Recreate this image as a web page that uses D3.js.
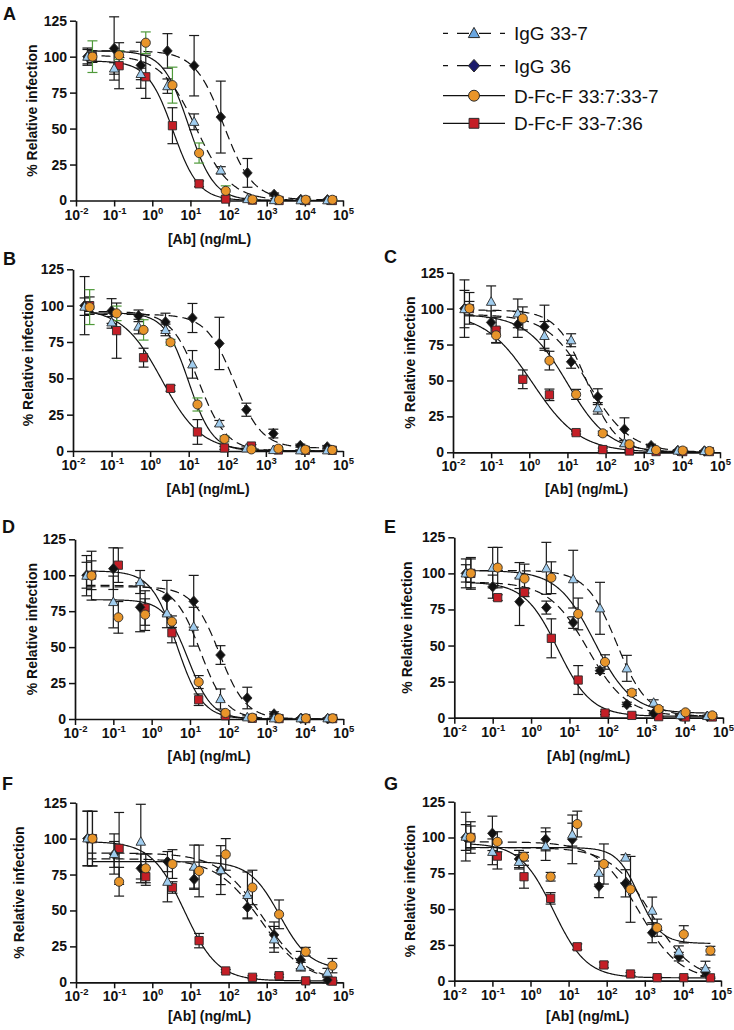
<!DOCTYPE html>
<html><head><meta charset="utf-8">
<script src="https://cdn.jsdelivr.net/npm/d3@7"></script>
<style>
body{margin:0;background:#fff}
svg{display:block}
text{font-family:"Liberation Sans",Arial,Helvetica,sans-serif}
</style>
</head><body><svg id="c" width="734" height="1030"></svg>
<script>
// ---------- DATA ----------
const seriesNames = ["IgG 33-7", "IgG 36", "D-Fc-F 33:7:33-7", "D-Fc-F 33-7:36"];
const concIgG = [0.02, 0.1, 0.5, 2.5, 12.5, 62.5, 312.5, 1562.5, 7812.5, 39062.5];
const concDFc = [0.027, 0.135, 0.675, 3.375, 16.875, 84.375, 421.875, 2109.375, 10546.875, 52734.375];
const yTicks = [0, 25, 50, 75, 100, 125];
const xTickExps = [-2, -1, 0, 1, 2, 3, 4, 5];
const panelIds = ["A", "B", "C", "D", "E", "F", "G"];

const A_igg337 = [100, 91.8, 88, 79.5, 54.7, 21, 1, 0.3, 0.2, 0.2];
const A_igg337_sd = [6, 4, 4, 5, 5.5, 2.5, 0.5, 0, 0, 0];
const A_igg36 = [100, 105.7, 94, 104, 93.7, 58, 19.2, 4.2, 0.7, 0.5];
const A_igg36_sd = [5, 22, 16, 12, 21, 25, 10, 1, 0.5, 0.3];
const A_dfcA = [100, 101, 109.7, 80.2, 33, 6.7, 0.7, 0.4, 0.5, 0.5];
const A_dfcA_sd = [11, 3, 7.5, 12.5, 7, 3.5, 0.5, 0.3, 0.3, 0.3];
const A_dfcB = [100, 93.7, 86, 52, 11.6, 1, 0.3, 0, 0, 0];
const A_dfcB_sd = [4, 16, 15, 12.5, 2, 0.5, 0.2, 0, 0, 0];

const B_igg337 = [99.3, 88.5, 85.6, 83.3, 59.6, 19, 1.8, 0.7, 0.5, 0.5];
const B_igg337_sd = [6, 4, 5, 4, 9.5, 2, 1, 0.3, 0.3, 0.3];
const B_igg36 = [100, 96.3, 93, 88.8, 91.5, 74, 28.4, 12, 3.7, 2.8];
const B_igg36_sd = [20, 8.5, 4, 6, 10, 18, 4.5, 3, 1, 1];
const B_dfcA = [99, 94.7, 83.3, 74.8, 32, 8.3, 1.1, 1.6, 0.9, 0.7];
const B_dfcA_sd = [12, 5, 7, 2, 4.5, 2, 0.5, 0.5, 0.3, 0.3];
const B_dfcB = [100, 82.8, 64.2, 43.1, 13.1, 2.1, 3.4, 0.7, 0.5, 0.5];
const B_dfcB_sd = [6, 19, 6.5, 2, 8.5, 1, 1, 0.3, 0.2, 0.2];

const C_igg337 = [99.7, 104.8, 96.7, 81, 78, 30.6, 6.3, 1.6, 1.2, 0.9];
const C_igg337_sd = [13, 11, 10, 10, 4.5, 4, 2, 0.5, 0.3, 0.3];
const C_igg36 = [100, 90.4, 89, 87.4, 63, 38.7, 16, 4.6, 1.2, 0.9];
const C_igg36_sd = [20, 8, 9, 15, 4.5, 5.5, 8, 1, 0.3, 0.3];
const C_dfcA = [100.2, 81.4, 93.2, 63.8, 40.3, 13.2, 5.6, 1.6, 1.2, 0.9];
const C_dfcA_sd = [11, 5, 8, 6.5, 3.5, 1.5, 1, 0.3, 0.3, 0.3];
const C_dfcB = [100, 85, 50.8, 40, 13.7, 1.9, 0.9, 0.5, 0.5, 0.5];
const C_dfcB_sd = [5, 9, 6.5, 4, 1, 1, 0.5, 0, 0, 0];

const D_igg337 = [99.7, 81.4, 95.3, 73.5, 64.2, 13.9, 1.2, 0.5, 0.5, 0.5];
const D_igg337_sd = [14, 18, 8, 10, 13.5, 7, 1, 0.3, 0.3, 0.3];
const D_igg36 = [100, 104.6, 77.7, 84.4, 81.9, 44.5, 14.6, 3.5, 0.5, 0.2];
const D_igg36_sd = [9, 14.5, 17, 12, 18, 6.5, 7.5, 1.5, 0.3, 0.2];
const D_dfcA = [99.7, 70.7, 72.6, 67.7, 25.7, 4.2, 0.9, 0.5, 0.5, 0.5];
const D_dfcA_sd = [17, 11, 11, 4, 4.5, 1.5, 0.5, 0.3, 0.3, 0.3];
const D_dfcB = [100, 107, 77.2, 60, 13.4, 2.3, 0.5, 0.3, 0.3, 0.3];
const D_dfcB_sd = [10, 12, 12, 7, 4, 1, 0.3, 0, 0, 0];

const E_igg337 = [100, 104, 98.5, 103.5, 96, 75.8, 34.2, 10.4, 1.8, 1.2];
const E_igg337_sd = [10, 14, 9, 18, 20, 18, 9, 2, 1, 0.5];
const E_igg36 = [100, 90.8, 80.4, 76.3, 65.9, 32.6, 9.2, 3, 1.2, 0.9];
const E_igg36_sd = [6, 8, 16.5, 4.5, 4, 2, 1.5, 1, 0.5, 0.5];
const E_dfcA = [100, 104, 96.4, 97, 71.9, 38.6, 17.3, 6, 3.7, 1.6];
const E_dfcA_sd = [11, 14, 10, 11, 11, 5, 2, 1.5, 1, 0.5];
const E_dfcB = [100, 83.2, 86.9, 55, 26.1, 3.2, 1.6, 0.7, 0.5, 0.5];
const E_dfcB_sd = [10, 2, 3, 13.5, 10, 1, 0.5, 0.2, 0.2, 0.2];

const F_igg337 = [100.2, 89.3, 97.9, 70, 80.5, 78.1, 60.8, 29.9, 10.9, 6.7];
const F_igg337_sd = [19, 14, 26, 14, 15, 17, 16, 9, 3, 3];
const F_igg36 = [100, 89, 79.3, 84, 71.7, 78, 52.2, 33, 15.5, 1.6];
const F_igg36_sd = [19, 9, 10, 7, 7, 10, 8, 9, 6, 2];
const F_dfcA = [100, 70, 79.3, 82.3, 77.5, 89, 66, 47.3, 21.3, 11.6];
const F_dfcA_sd = [19, 10, 10, 10, 18, 11, 12, 10, 3, 5];
const F_dfcB = [100, 93.2, 73.5, 66, 29, 7.9, 3.5, 4.6, 1, 0.8];
const F_dfcB_sd = [19, 25, 6, 4, 5, 1, 1, 1, 0.5, 0.5];

const G_igg337 = [100.6, 90, 83, 94, 102, 75.4, 86, 48.9, 20.3, 8.6];
const G_igg337_sd = [17, 9, 5, 10, 8, 8, 2, 9.5, 4, 5];
const G_igg36 = [100, 102.9, 85, 98.7, 98.7, 66, 68, 33.5, 16.8, 6];
const G_igg36_sd = [9, 12, 6, 8, 17, 8, 9.5, 7, 3, 3];
const G_dfcA = [100, 97, 86.6, 72.6, 109.4, 81.5, 63.8, 37, 32.4, 21];
const G_dfcA_sd = [11, 7, 3, 3, 9, 14, 23, 6, 6, 3];
const G_dfcB = [100, 87, 72.6, 57.5, 23.7, 11, 4.7, 2.1, 2.1, 2];
const G_dfcB_sd = [8, 9, 8, 4, 2, 2, 1, 0.5, 0.5, 0.5];

// fitted 4-parameter logistic curves: [top, bottom, IC50 (ng/mL), Hill slope]
const A_fits = [[101, 0, 14, 0.95], [104, 0.5, 75, 1.15], [104, 0, 9, 1.3], [97, 0, 3.5, 1.3]];
const B_fits = [[96, 0, 18, 1.2], [94, 2, 150, 1.2], [95, 0, 10, 1.4], [98, 0, 2, 0.85]];
const C_fits = [[99, 0, 32, 1.1], [96, 0, 35, 0.8], [96, 0, 10, 0.8], [97, 0, 1.2, 0.7]];
const D_fits = [[93, 0, 19, 1.3], [92, 0, 58, 1.25], [83, 0, 9, 1.4], [103, 0, 4.5, 1.3]];
const E_fits = [[102, 1, 170, 1.1], [94, 1, 30, 0.85], [102, 3, 45, 0.9], [94, 1, 5, 1.0]];
const F_fits = [[90, 0, 800, 0.75], [86, 0, 700, 0.75], [84, 9, 2200, 1.1], [98, 1, 7, 1.0]];
const G_fits = [[93, 0, 1500, 0.8], [97, 0, 700, 0.8], [93, 26, 700, 1.5], [96, 2, 4, 1.0]];

// ---------- ASSEMBLY ----------
const panels = {
  A: {vals: [A_igg337, A_igg36, A_dfcA, A_dfcB], sds: [A_igg337_sd, A_igg36_sd, A_dfcA_sd, A_dfcB_sd], fits: A_fits},
  B: {vals: [B_igg337, B_igg36, B_dfcA, B_dfcB], sds: [B_igg337_sd, B_igg36_sd, B_dfcA_sd, B_dfcB_sd], fits: B_fits},
  C: {vals: [C_igg337, C_igg36, C_dfcA, C_dfcB], sds: [C_igg337_sd, C_igg36_sd, C_dfcA_sd, C_dfcB_sd], fits: C_fits},
  D: {vals: [D_igg337, D_igg36, D_dfcA, D_dfcB], sds: [D_igg337_sd, D_igg36_sd, D_dfcA_sd, D_dfcB_sd], fits: D_fits},
  E: {vals: [E_igg337, E_igg36, E_dfcA, E_dfcB], sds: [E_igg337_sd, E_igg36_sd, E_dfcA_sd, E_dfcB_sd], fits: E_fits},
  F: {vals: [F_igg337, F_igg36, F_dfcA, F_dfcB], sds: [F_igg337_sd, F_igg36_sd, F_dfcA_sd, F_dfcB_sd], fits: F_fits},
  G: {vals: [G_igg337, G_igg36, G_dfcA, G_dfcB], sds: [G_igg337_sd, G_igg36_sd, G_dfcA_sd, G_dfcB_sd], fits: G_fits}
};
const seriesConc = [concIgG, concIgG, concDFc, concDFc];

// ---------- LAYOUT / STYLE ----------
const layout = {
  A: {x0: 76, x1: 343, yt: 20.7, yb: 200.5, lx: 3, ly: 20, ylx: 36.7, xly: 244},
  B: {x0: 73, x1: 343, yt: 269.3, yb: 451, lx: 3, ly: 265, ylx: 33.3, xly: 494},
  C: {x0: 453, x1: 720, yt: 272.7, yb: 452.3, lx: 384, ly: 263, ylx: 415, xly: 494},
  D: {x0: 75, x1: 343.3, yt: 539.3, yb: 719, lx: 2, ly: 533, ylx: 36.7, xly: 761},
  E: {x0: 454.3, x1: 723, yt: 537.3, yb: 717.7, lx: 384, ly: 533, ylx: 412, xly: 761},
  F: {x0: 76, x1: 343, yt: 802.7, yb: 982.3, lx: 2, ly: 790, ylx: 24.3, xly: 1021},
  G: {x0: 454.3, x1: 721, yt: 801.7, yb: 980.7, lx: 384, ly: 790, ylx: 414.7, xly: 1021}
};
const fills = ["#a0cdef", "#111111", "#e8952a", "#c41e26"];
const legendFills = ["#6aa6e0", "#1c1c6b", "#e8952a", "#c41e26"];
const dashed = [true, true, false, false];
const drawOrder = [3, 1, 0, 2];
const greenErrPanels = ["A", "B"];
const ink = "#111";

const svg = d3.select("#c");

function markerPath(type, cx, cy, s) {
  const p = d3.path();
  if (type === 0) { // triangle
    const w = s * 1.08, h = w * 0.9;
    p.moveTo(cx, cy - h * 0.58); p.lineTo(cx + w / 2, cy + h * 0.42); p.lineTo(cx - w / 2, cy + h * 0.42); p.closePath();
  } else if (type === 1) { // diamond
    const r = s * 0.6;
    p.moveTo(cx, cy - r); p.lineTo(cx + r * 0.9, cy); p.lineTo(cx, cy + r); p.lineTo(cx - r * 0.9, cy); p.closePath();
  } else if (type === 2) { // circle
    p.arc(cx, cy, s * 0.52, 0, 2 * Math.PI);
  } else { // square
    const h = s * 0.47;
    p.rect(cx - h, cy - h, 2 * h, 2 * h);
  }
  return p.toString();
}

function logistic(c, f) {
  const [top, bot, ic50, hill] = f;
  return bot + (top - bot) / (1 + Math.pow(c / ic50, hill));
}

panelIds.forEach(id => {
  const L = layout[id], P = panels[id];
  const x = d3.scaleLog().domain([1e-2, 1e5]).range([L.x0, L.x1]);
  const y = d3.scaleLinear().domain([0, 125]).range([L.yb, L.yt]);
  const g = svg.append("g");

  // axes
  const gx = g.append("g").attr("transform", `translate(0,${L.yb})`)
    .call(d3.axisBottom(x).tickValues(xTickExps.map(e => Math.pow(10, e))).tickSize(6).tickSizeOuter(0).tickFormat(""));
  gx.selectAll(".tick").each(function(d) {
    const t = d3.select(this).append("text").attr("y", 19).attr("text-anchor", "middle")
      .attr("fill", ink).style("font-weight", "bold");
    t.append("tspan").text("10").style("font-size", "14px");
    t.append("tspan").text(String(Math.round(Math.log10(d)))).attr("dy", -6).style("font-size", "9.5px");
  });
  const gy = g.append("g").attr("transform", `translate(${L.x0},0)`)
    .call(d3.axisLeft(y).tickValues(yTicks).tickSize(6).tickPadding(3).tickSizeOuter(0));
  gy.selectAll("text").attr("fill", ink).style("font-size", "14px").style("font-weight", "bold");
  [gx, gy].forEach(a => {
    a.select(".domain").attr("stroke", ink).attr("stroke-width", 1.7);
    a.selectAll(".tick line").attr("stroke", ink).attr("stroke-width", 1.5);
  });

  // labels
  g.append("text").attr("x", L.lx).attr("y", L.ly).text(id)
    .style("font-size", "18px").style("font-weight", "bold").attr("fill", ink);
  g.append("text").attr("x", (L.x0 + L.x1) / 2).attr("y", L.xly).attr("text-anchor", "middle")
    .text("[Ab] (ng/mL)").style("font-size", "14px").style("font-weight", "bold").attr("fill", ink);
  g.append("text").attr("transform", `translate(${L.ylx},${(L.yt + L.yb) / 2}) rotate(-90)`)
    .attr("text-anchor", "middle").text("% Relative infection")
    .style("font-size", "14px").style("font-weight", "bold").attr("fill", ink);

  // fitted curves
  const line = d3.line().x(d => x(d[0])).y(d => y(d[1]));
  P.fits.forEach((f, si) => {
    const c = seriesConc[si];
    const lo = Math.log10(c[0]), hi = Math.log10(c[c.length - 1]);
    const pts = d3.range(lo, hi + 1e-9, (hi - lo) / 300).map(e => [Math.pow(10, e), logistic(Math.pow(10, e), f)]);
    g.append("path").attr("d", line(pts)).attr("fill", "none").attr("stroke", ink)
      .attr("stroke-width", 1.2).attr("stroke-dasharray", dashed[si] ? "9,5" : null);
  });

  // error bars
  drawOrder.forEach(si => {
    const col = (si === 2 && greenErrPanels.includes(id)) ? "#4f9a3a" : "#1a1a1a";
    P.vals[si].forEach((v, i) => {
      const sd = P.sds[si][i];
      if (sd <= 0) return;
      const cx = x(seriesConc[si][i]);
      const yT = y(v + sd), yB = y(v - sd);
      const eg = g.append("g").attr("stroke", col).attr("stroke-width", 1.2);
      eg.append("line").attr("x1", cx).attr("x2", cx).attr("y1", yT).attr("y2", yB);
      eg.append("line").attr("x1", cx - 5).attr("x2", cx + 5).attr("y1", yT).attr("y2", yT);
      eg.append("line").attr("x1", cx - 5).attr("x2", cx + 5).attr("y1", yB).attr("y2", yB);
    });
  });

  // markers
  drawOrder.forEach(si => {
    P.vals[si].forEach((v, i) => {
      g.append("path").attr("d", markerPath(si, x(seriesConc[si][i]), y(v), 8.8))
        .attr("fill", fills[si]).attr("stroke", "#2a2a2a").attr("stroke-width", 0.9);
    });
  });
});

// legend
const legRows = [33.3, 65.7, 95.7, 123.3];
seriesNames.forEach((name, si) => {
  const yc = legRows[si];
  svg.append("line").attr("x1", 443).attr("x2", 505).attr("y1", yc).attr("y2", yc)
    .attr("stroke", ink).attr("stroke-width", 1.2)
    .attr("stroke-dasharray", dashed[si] ? "5,9,12,10,12,9,5" : null);
  svg.append("path").attr("d", markerPath(si, 474, yc, 10.5))
    .attr("fill", legendFills[si]).attr("stroke", "#2a2a2a").attr("stroke-width", 1);
  svg.append("text").attr("x", 514).attr("y", yc + 7).text(name)
    .style("font-size", "19px").attr("fill", ink);
});
</script></body></html>
